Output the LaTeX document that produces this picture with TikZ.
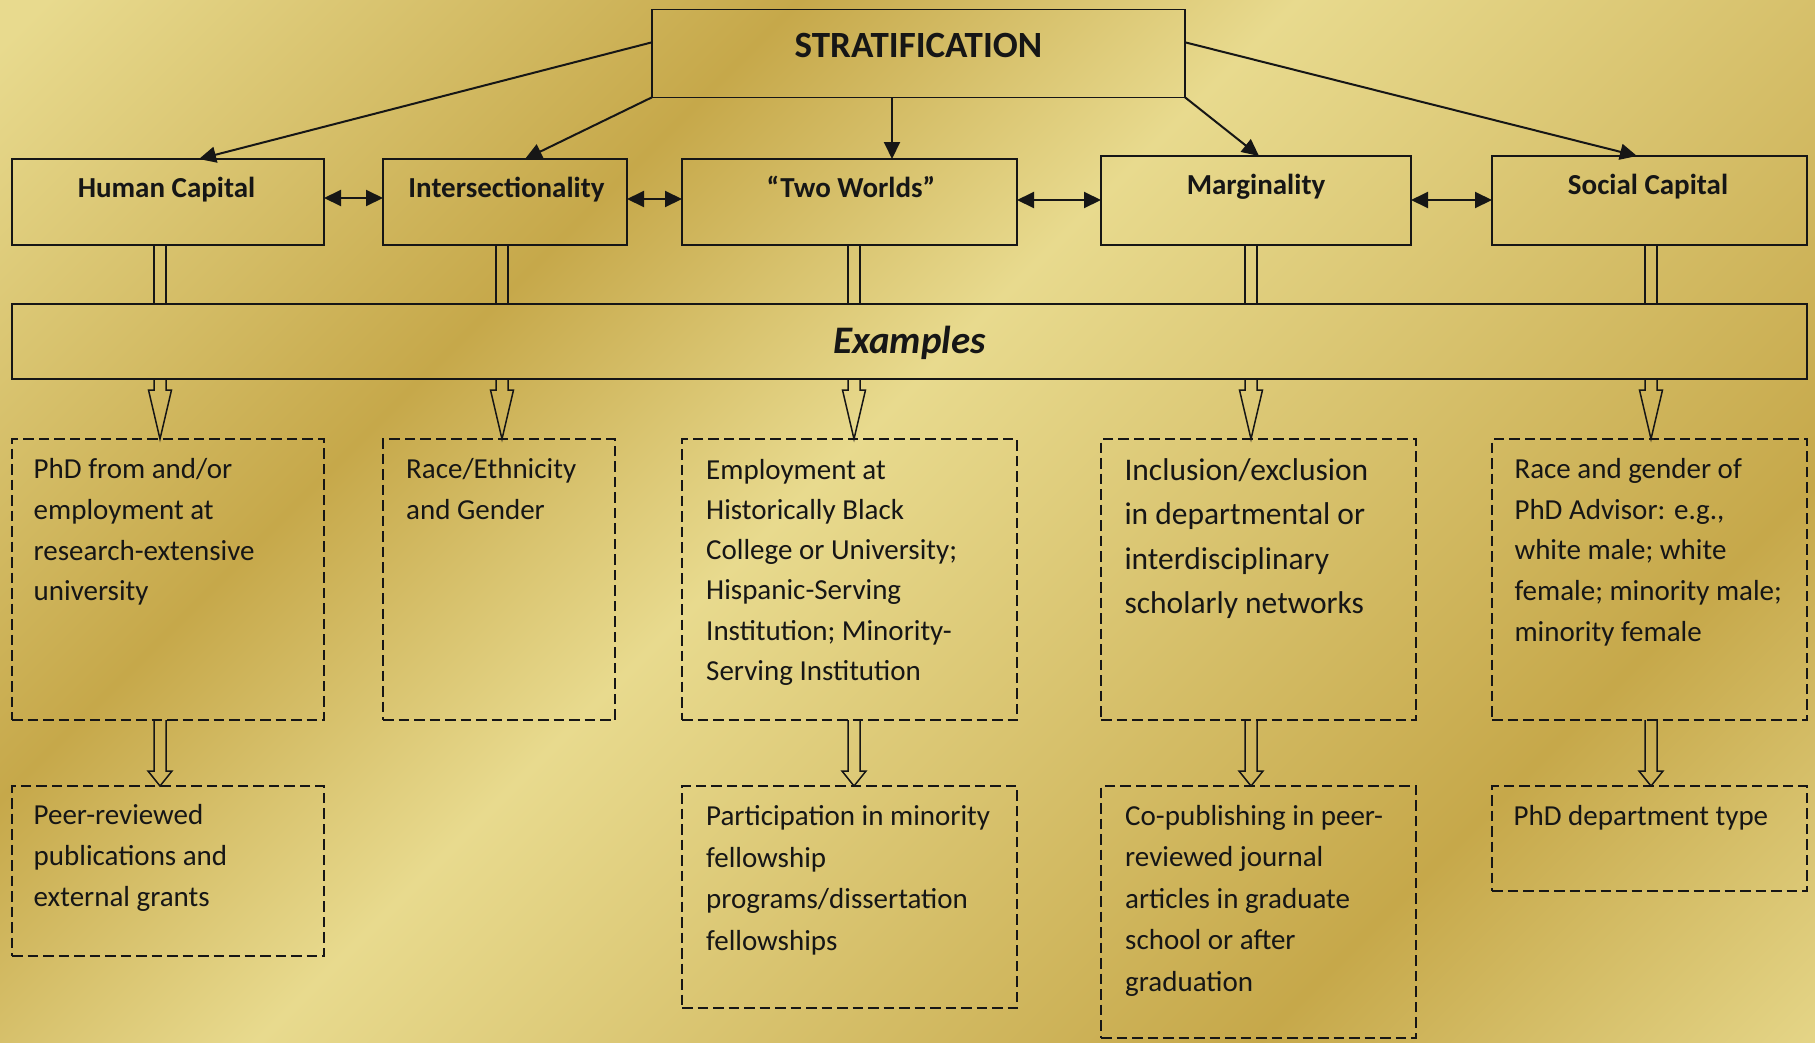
\documentclass[tikz,border=0pt]{standalone}
\usepackage{fontspec}
\setmainfont{Carlito}
\usetikzlibrary{arrows.meta,calc}
\definecolor{gl}{RGB}{232,218,142}
\definecolor{gd}{RGB}{198,168,74}
\definecolor{ink}{RGB}{22,22,22}
\pgfdeclarehorizontalshading{goldbg}{100bp}{color(0bp)=(gl); color(27.8bp)=(gl); color(39.9bp)=(gd); color(47.9bp)=(gl); color(64bp)=(gd); color(74bp)=(gl); color(100bp)=(gl)}
\newcommand{\bodylines}[3]{\fontsize{#1}{#2}\selectfont\begin{tabular}[t]{@{}l@{}}#3\end{tabular}}
\newcommand{\stem}[3]{%
  \draw[hollow] let \p1=(#1 |- #2.south), \p2=(#1 |- #3.north) in
    (\x1-6pt,\y1) rectangle (\x2+6pt,\y2);}
\newcommand{\harrow}[5]{%
  \draw[hollow] let \p1=(#1 |- #2.south), \p2=(#1 |- #3.north) in
    (\x1-6pt,\y1) -- (\x1-6pt,\y2+#4) -- (\x1-#5,\y2+#4) -- (\x2,\y2)
    -- (\x1+#5,\y2+#4) -- (\x1+6pt,\y2+#4) -- (\x1+6pt,\y1);}
\begin{document}
\begin{tikzpicture}[x=1pt,y=-1pt,
  box/.style={draw=ink, line width=1.5pt, rectangle, inner sep=0pt, outer sep=0pt, anchor=north west},
  exbox/.style={draw=ink, line width=2pt, dash pattern=on 10.5pt off 5pt, rectangle, inner sep=0pt, outer sep=0pt, anchor=north west},
  arr/.style={draw=ink, line width=2pt, -{Triangle[length=17pt,width=16pt]}},
  darr/.style={draw=ink, line width=2pt, {Triangle[length=17pt,width=16pt]}-{Triangle[length=17pt,width=16pt]}},
  hollow/.style={draw=ink, line width=1.5pt, line join=miter},
  title/.style={font=\fontsize{37}{44}\selectfont\bfseries, text=ink, inner sep=0pt, anchor=base},
  head/.style={font=\fontsize{29}{35}\selectfont\bfseries, text=ink, inner sep=0pt, anchor=base},
  body/.style={text=ink, inner sep=0pt, anchor=base west}
]
\useasboundingbox (0,0) rectangle (1815,1042);
\begin{scope}
  \clip (0,0) rectangle (1815,1042);
  \begin{scope}[transform canvas={rotate around={-45:(907.5,521)}}]
    \shade[shading=goldbg] (-192.5,-579) rectangle (2007.5,1621);
  \end{scope}
\end{scope}

% column coordinates for the hollow connectors
\coordinate (c1) at (160,0);
\coordinate (c2) at (502,0);
\coordinate (c3) at (854,0);
\coordinate (c4) at (1251,0);
\coordinate (c5) at (1651,0);

% top
\node[box, minimum width=533pt, minimum height=88pt] (strat) at (652,9.3) {};
\node[title] (stratt) at ([shift={(0,48)}]strat.north) {STRATIFICATION};

% row 1
\node[box, minimum width=312pt, minimum height=86pt] (hc) at (12,159) {};
\node[box, minimum width=244pt, minimum height=86pt] (int) at (383,159) {};
\node[box, minimum width=335pt, minimum height=86pt] (tw) at (682,159) {};
\node[box, minimum width=310pt, minimum height=89pt] (marg) at (1101,156) {};
\node[box, minimum width=315pt, minimum height=89pt] (sc) at (1492,156) {};
\node[head] (hct) at ([shift={(-1.5,38)}]hc.north) {Human Capital};
\node[head] (intt) at ([shift={(1.5,38)}]int.north) {Intersectionality};
\node[head] (twt) at ([shift={(1.5,38)}]tw.north) {“Two Worlds”};
\node[head] (margt) at ([shift={(0,38.5)}]marg.north) {Marginality};
\node[head] (sct) at ([shift={(-1.5,38)}]sc.north) {Social Capital};

% examples bar
\node[box, minimum width=1795pt, minimum height=75pt] (exm) at (12,304) {};
\node[font=\fontsize{39}{46}\selectfont\bfseries\itshape, text=ink, inner sep=0pt, anchor=base] (ext) at ([shift={(0,49)}]exm.north) {Examples};

% row 2
\node[exbox, minimum width=312pt, minimum height=281pt] (hce) at (12,439) {};
\node[exbox, minimum width=232pt, minimum height=281pt] (inte) at (383,439) {};
\node[exbox, minimum width=335pt, minimum height=281pt] (twe) at (682,439) {};
\node[exbox, minimum width=315pt, minimum height=281pt] (marge) at (1101,439) {};
\node[exbox, minimum width=315pt, minimum height=281pt] (sce) at (1492,439) {};

\node[body] (hcet) at ([shift={(21.5,39.6)}]hce.north west) {\bodylines{29}{40.7}{PhD from and/or\\employment at\\research-extensive\\university}};
\node[body] (intet) at ([shift={(23,39.6)}]inte.north west) {\bodylines{29}{40.7}{Race/Ethnicity\\and Gender}};
\node[body] (twet) at ([shift={(24,40)}]twe.north west) {\bodylines{29}{40.3}{Employment at\\Historically Black\\College or University;\\Hispanic-Serving\\Institution; Minority-\\Serving Institution}};
\node[body] (marget) at ([shift={(23.3,41)}]marge.north west) {\bodylines{31.5}{44.5}{Inclusion/exclusion\\in departmental or\\interdisciplinary\\scholarly networks}};
\node[body] (scet) at ([shift={(22.3,39.3)}]sce.north west) {\bodylines{29}{40.8}{Race and gender of\\PhD Advisor: e.g.,\\white male; white\\female; minority male;\\minority female}};

% row 3
\node[exbox, minimum width=312pt, minimum height=170pt] (hcf) at (12,786) {};
\node[exbox, minimum width=335pt, minimum height=222pt] (twf) at (682,786) {};
\node[exbox, minimum width=315pt, minimum height=252pt] (margf) at (1101,786) {};
\node[exbox, minimum width=315pt, minimum height=105pt] (scf) at (1492,786) {};

\node[body] (hcft) at ([shift={(21.5,38.4)}]hcf.north west) {\bodylines{29}{40.9}{Peer-reviewed\\publications and\\external grants}};
\node[body] (twft) at ([shift={(24,39.5)}]twf.north west) {\bodylines{29}{41.5}{Participation in minority\\fellowship\\programs/dissertation\\fellowships}};
\node[body] (margft) at ([shift={(24,39)}]margf.north west) {\bodylines{29}{41.5}{Co-publishing in peer-\\reviewed journal\\articles in graduate\\school or after\\graduation}};
\node[body] (scft) at ([shift={(21.4,39)}]scf.north west) {\bodylines{29}{41}{PhD department type}};

% arrows from stratification
\draw[arr] ([shift={(0,-11)}]strat.west) -- ([shift={(31,0)}]hc.north);
\draw[arr] (strat.south west) -- ([shift={(20,0)}]int.north);
\draw[arr] ([shift={(-26.5,0)}]strat.south) -- ([shift={(42.5,0)}]tw.north);
\draw[arr] (strat.south east) -- ([shift={(3,0)}]marg.north);
\draw[arr] ([shift={(0,-11)}]strat.east) -- ([shift={(-12.5,0)}]sc.north);

% double arrows in row 1
\draw[darr] ([shift={(0,-4)}]hc.east) -- ([shift={(0,-4)}]int.west);
\draw[darr] ([shift={(0,-3)}]int.east) -- ([shift={(0,-3)}]tw.west);
\draw[darr] ([shift={(0,-2)}]tw.east) -- ([shift={(0,-0.5)}]marg.west);
\draw[darr] ([shift={(0,-0.5)}]marg.east) -- ([shift={(0,-0.5)}]sc.west);

% hollow connectors row 1 -> examples
\stem{c1}{hc}{exm}
\stem{c2}{int}{exm}
\stem{c3}{tw}{exm}
\stem{c4}{marg}{exm}
\stem{c5}{sc}{exm}

% hollow arrows examples -> row 2
\harrow{c1}{exm}{hce}{49pt}{11.5pt}
\harrow{c2}{exm}{inte}{49pt}{11.5pt}
\harrow{c3}{exm}{twe}{49pt}{11.5pt}
\harrow{c4}{exm}{marge}{49pt}{11.5pt}
\harrow{c5}{exm}{sce}{49pt}{11.5pt}

% hollow arrows row 2 -> row 3
\harrow{c1}{hce}{hcf}{15pt}{12pt}
\harrow{c3}{twe}{twf}{15pt}{12pt}
\harrow{c4}{marge}{margf}{15pt}{12pt}
\harrow{c5}{sce}{scf}{15pt}{12pt}
\end{tikzpicture}
\end{document}
